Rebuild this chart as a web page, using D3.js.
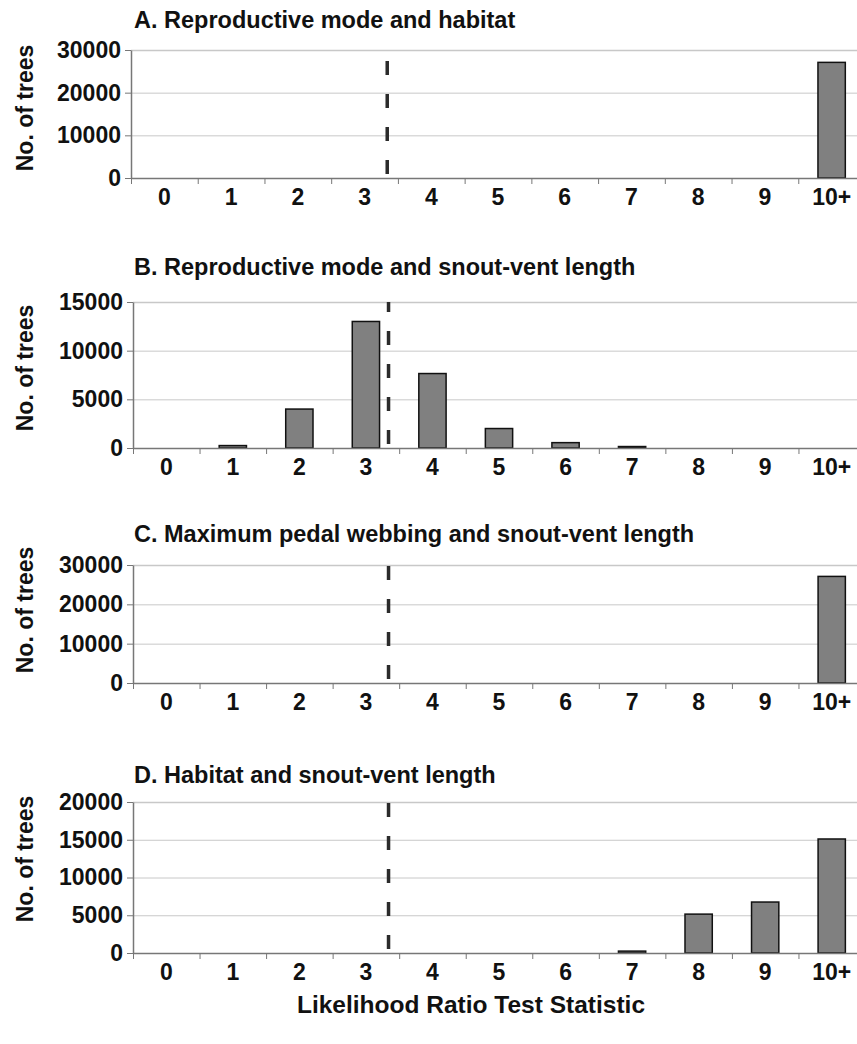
<!DOCTYPE html>
<html>
<head>
<meta charset="utf-8">
<script src="https://cdn.jsdelivr.net/npm/d3@7"></script>
<style>
  body { margin: 0; background: #fff; }
  svg { display: block; font-family: "Liberation Sans", Arial, sans-serif; font-weight: bold; }
  .axis path, .axis line { stroke: #777; }
  .grid line { stroke: #c8c8c8; }
  .grid path { display: none; }
</style>
</head>
<body>
<svg id="chart"></svg>
<script>
// data
const categories = ["0", "1", "2", "3", "4", "5", "6", "7", "8", "9", "10+"];

const panelTitles = [
  "A. Reproductive mode and habitat",
  "B. Reproductive mode and snout-vent length",
  "C. Maximum pedal webbing and snout-vent length",
  "D. Habitat and snout-vent length"
];

const treesA = [0, 0, 0, 0, 0, 0, 0, 0, 0, 0, 27100];
const treesB = [0, 250, 4000, 13000, 7650, 2000, 550, 150, 0, 0, 0];
const treesC = [0, 0, 0, 0, 0, 0, 0, 0, 0, 0, 27100];
const treesD = [0, 0, 0, 0, 0, 0, 0, 250, 5150, 6750, 15100];

const yTicksA = [0, 10000, 20000, 30000];
const yTicksB = [0, 5000, 10000, 15000];
const yTicksC = [0, 10000, 20000, 30000];
const yTicksD = [0, 5000, 10000, 15000, 20000];

// chi-square critical value (1 df, p = 0.05)
const criticalValue = 3.84;

const yLabel = "No. of trees";
const xLabel = "Likelihood Ratio Test Statistic";

// layout
const width = 857;
const height = 1044;
const right = 865;

const layout = [
  { top: 50, bottom: 178, left: 131, titleY: 28, labelY: 108 },
  { top: 302, bottom: 448, left: 133, titleY: 275, labelY: 368 },
  { top: 565, bottom: 683, left: 133, titleY: 542, labelY: 610 },
  { top: 802, bottom: 953, left: 133, titleY: 783, labelY: 859 }
];

const panels = [
  { title: panelTitles[0], values: treesA, ticks: yTicksA },
  { title: panelTitles[1], values: treesB, ticks: yTicksB },
  { title: panelTitles[2], values: treesC, ticks: yTicksC },
  { title: panelTitles[3], values: treesD, ticks: yTicksD }
];

const svg = d3.select("#chart")
  .attr("width", width)
  .attr("height", height)
  .attr("viewBox", [0, 0, width, height]);

panels.forEach((p, i) => {
  const L = layout[i];
  const g = svg.append("g");

  const x = d3.scaleBand()
    .domain(categories)
    .range([L.left, right])
    .padding(0);

  // continuous version of the x axis, for boundary ticks and the dashed line
  const xLin = d3.scaleLinear()
    .domain([0, categories.length])
    .range([L.left, right]);

  const y = d3.scaleLinear()
    .domain([0, d3.max(p.ticks)])
    .range([L.bottom, L.top]);

  // gridlines
  g.append("g")
    .attr("class", "grid")
    .attr("transform", `translate(${L.left},0)`)
    .call(d3.axisLeft(y)
      .tickValues(p.ticks.filter(t => t > 0))
      .tickSize(-(right - L.left))
      .tickFormat(""))
    .call(s => s.selectAll("line")
      .filter(d => d === d3.max(p.ticks))
      .attr("stroke", "#777")
      .attr("stroke-width", 1.5));

  // bars
  const barW = x.step() * 0.41;
  g.selectAll("rect.bar")
    .data(p.values)
    .join("rect")
    .attr("class", "bar")
    .attr("x", (d, j) => x(categories[j]) + (x.step() - barW) / 2)
    .attr("width", barW)
    .attr("y", d => y(d))
    .attr("height", d => y(0) - y(d))
    .attr("fill", "#808080")
    .attr("stroke", d => d > 0 ? "#111" : "none")
    .attr("stroke-width", 1.5);

  // y axis
  g.append("g")
    .attr("class", "axis")
    .attr("transform", `translate(${L.left},0)`)
    .call(d3.axisLeft(y)
      .tickValues(p.ticks)
      .tickSize(6)
      .tickSizeOuter(0)
      .tickPadding(4)
      .tickFormat(d3.format("d")))
    .call(s => s.select(".domain").attr("stroke-width", 1.5))
    .call(s => s.selectAll("text")
      .attr("fill", "#111")
      .style("font-size", "23px")
      .style("font-weight", "bold"));

  // x axis: boundary tick marks
  g.append("g")
    .attr("class", "axis")
    .attr("transform", `translate(0,${L.bottom})`)
    .call(d3.axisBottom(xLin)
      .tickValues(d3.range(categories.length + 1))
      .tickSize(6)
      .tickSizeOuter(0)
      .tickFormat(""))
    .call(s => s.select(".domain").attr("stroke-width", 1.5));

  // x axis: category labels
  g.append("g")
    .attr("transform", `translate(0,${L.bottom})`)
    .call(d3.axisBottom(x).tickSize(0).tickPadding(11))
    .call(s => s.select(".domain").remove())
    .call(s => s.selectAll("text")
      .attr("fill", "#111")
      .style("font-size", "23px")
      .style("font-weight", "bold"));

  // dashed critical value line, drawn from the axis upward
  g.append("line")
    .attr("x1", xLin(criticalValue))
    .attr("x2", xLin(criticalValue))
    .attr("y1", L.bottom)
    .attr("y2", L.top)
    .attr("stroke", "#2b2b2b")
    .attr("stroke-width", 3.5)
    .attr("stroke-dasharray", "14,19")
    .attr("stroke-dashoffset", 29);

  // panel title
  g.append("text")
    .attr("x", 134)
    .attr("y", L.titleY)
    .attr("fill", "#111")
    .style("font-size", "23.5px")
    .text(p.title);

  // y label
  g.append("text")
    .attr("transform", `translate(33,${L.labelY}) rotate(-90)`)
    .attr("text-anchor", "middle")
    .attr("fill", "#111")
    .style("font-size", "23px")
    .text(yLabel);
});

svg.append("text")
  .attr("x", 471)
  .attr("y", 1013)
  .attr("text-anchor", "middle")
  .attr("fill", "#111")
  .style("font-size", "24.5px")
  .text(xLabel);
</script>
</body>
</html>
